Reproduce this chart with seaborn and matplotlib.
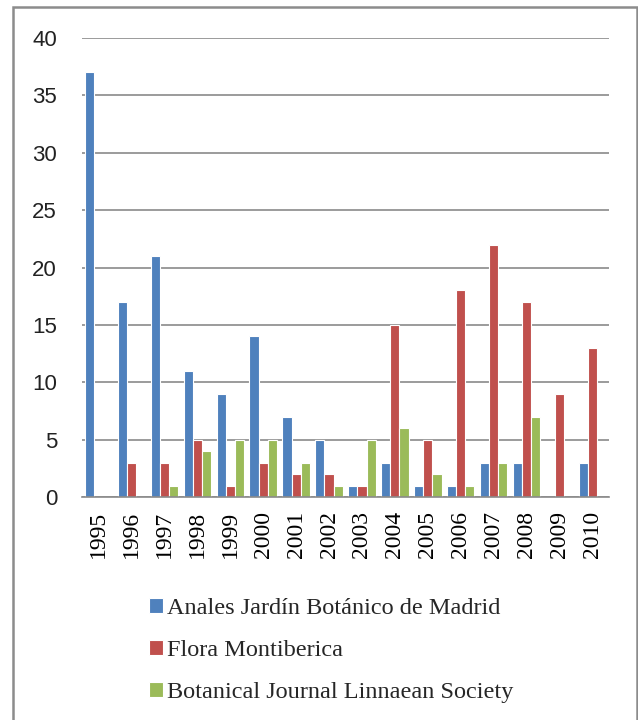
import matplotlib
matplotlib.use("Agg")
import matplotlib.pyplot as plt
import matplotlib.patches as mpatches
import seaborn as sns
import pandas as pd

years = ["1995", "1996", "1997", "1998", "1999", "2000", "2001", "2002",
         "2003", "2004", "2005", "2006", "2007", "2008", "2009", "2010"]
anales = [37, 17, 21, 11, 9, 14, 7, 5, 1, 3, 1, 1, 3, 3, 0, 3]
flora = [0, 3, 3, 5, 1, 3, 2, 2, 1, 15, 5, 18, 22, 17, 9, 13]
botanical = [0, 0, 1, 4, 5, 5, 3, 1, 5, 6, 2, 1, 3, 7, 0, 0]
series_names = ["Anales Jardín Botánico de Madrid", "Flora Montiberica",
                "Botanical Journal Linnaean Society"]
colors = ["#4F81BD", "#C0504D", "#9BBB59"]

rows = []
for name, vals in zip(series_names, [anales, flora, botanical]):
    for y, v in zip(years, vals):
        rows.append({"year": y, "value": v, "series": name})
df = pd.DataFrame(rows)

sns.set_theme(style="white")
fig = plt.figure(figsize=(6.38, 7.2), dpi=100)
ax = fig.add_axes([82 / 638, 1 - 497 / 720, (609 - 82) / 638, (497 - 38) / 720])

sns.barplot(data=df, x="year", y="value", hue="series", hue_order=series_names,
            order=years, palette=colors, width=0.83, gap=0, ax=ax,
            edgecolor="white", linewidth=0.8, saturation=1, errorbar=None)

ax.set_ylim(0, 40)
ax.set_xlim(-0.5, 15.5)
ax.set_yticks([0, 5, 10, 15, 20, 25, 30, 35, 40])
ax.yaxis.grid(True, color="#8a8a8a", linewidth=1.2)
ax.set_axisbelow(True)
for s in ["top", "right", "left"]:
    ax.spines[s].set_visible(False)
ax.spines["bottom"].set_color("#8a8a8a")
ax.spines["bottom"].set_linewidth(1.2)
ax.set_xlabel("")
ax.set_ylabel("")
ax.tick_params(axis="y", length=4, color="#8a8a8a", pad=14, labelsize=16,
               labelcolor="#222222")
ax.tick_params(axis="x", length=0, pad=10)
for lab in ax.get_yticklabels():
    lab.set_family("Liberation Sans")
ax.set_xticks(range(len(years)))
ax.set_xticklabels(years, rotation=90, family="Liberation Serif", fontsize=17,
                   color="black")

handles, labels = ax.get_legend_handles_labels()
ax.get_legend().remove()
fig.legend(handles, labels, loc="upper left", bbox_to_anchor=(127 / 638, 1 - 576 / 720),
           frameon=False, handlelength=0.6, handleheight=0.6, handletextpad=0.15,
           labelspacing=0.85, prop={"family": "Liberation Serif", "size": 17.5})

border = mpatches.Rectangle((13 / 638, -0.02), (637 - 13) / 638, (720 - 7) / 720 + 0.02,
                            transform=fig.transFigure, fill=False,
                            edgecolor="#8c8c8c", linewidth=1.8)
fig.patches.append(border)

fig.savefig("out.png", dpi=100)
